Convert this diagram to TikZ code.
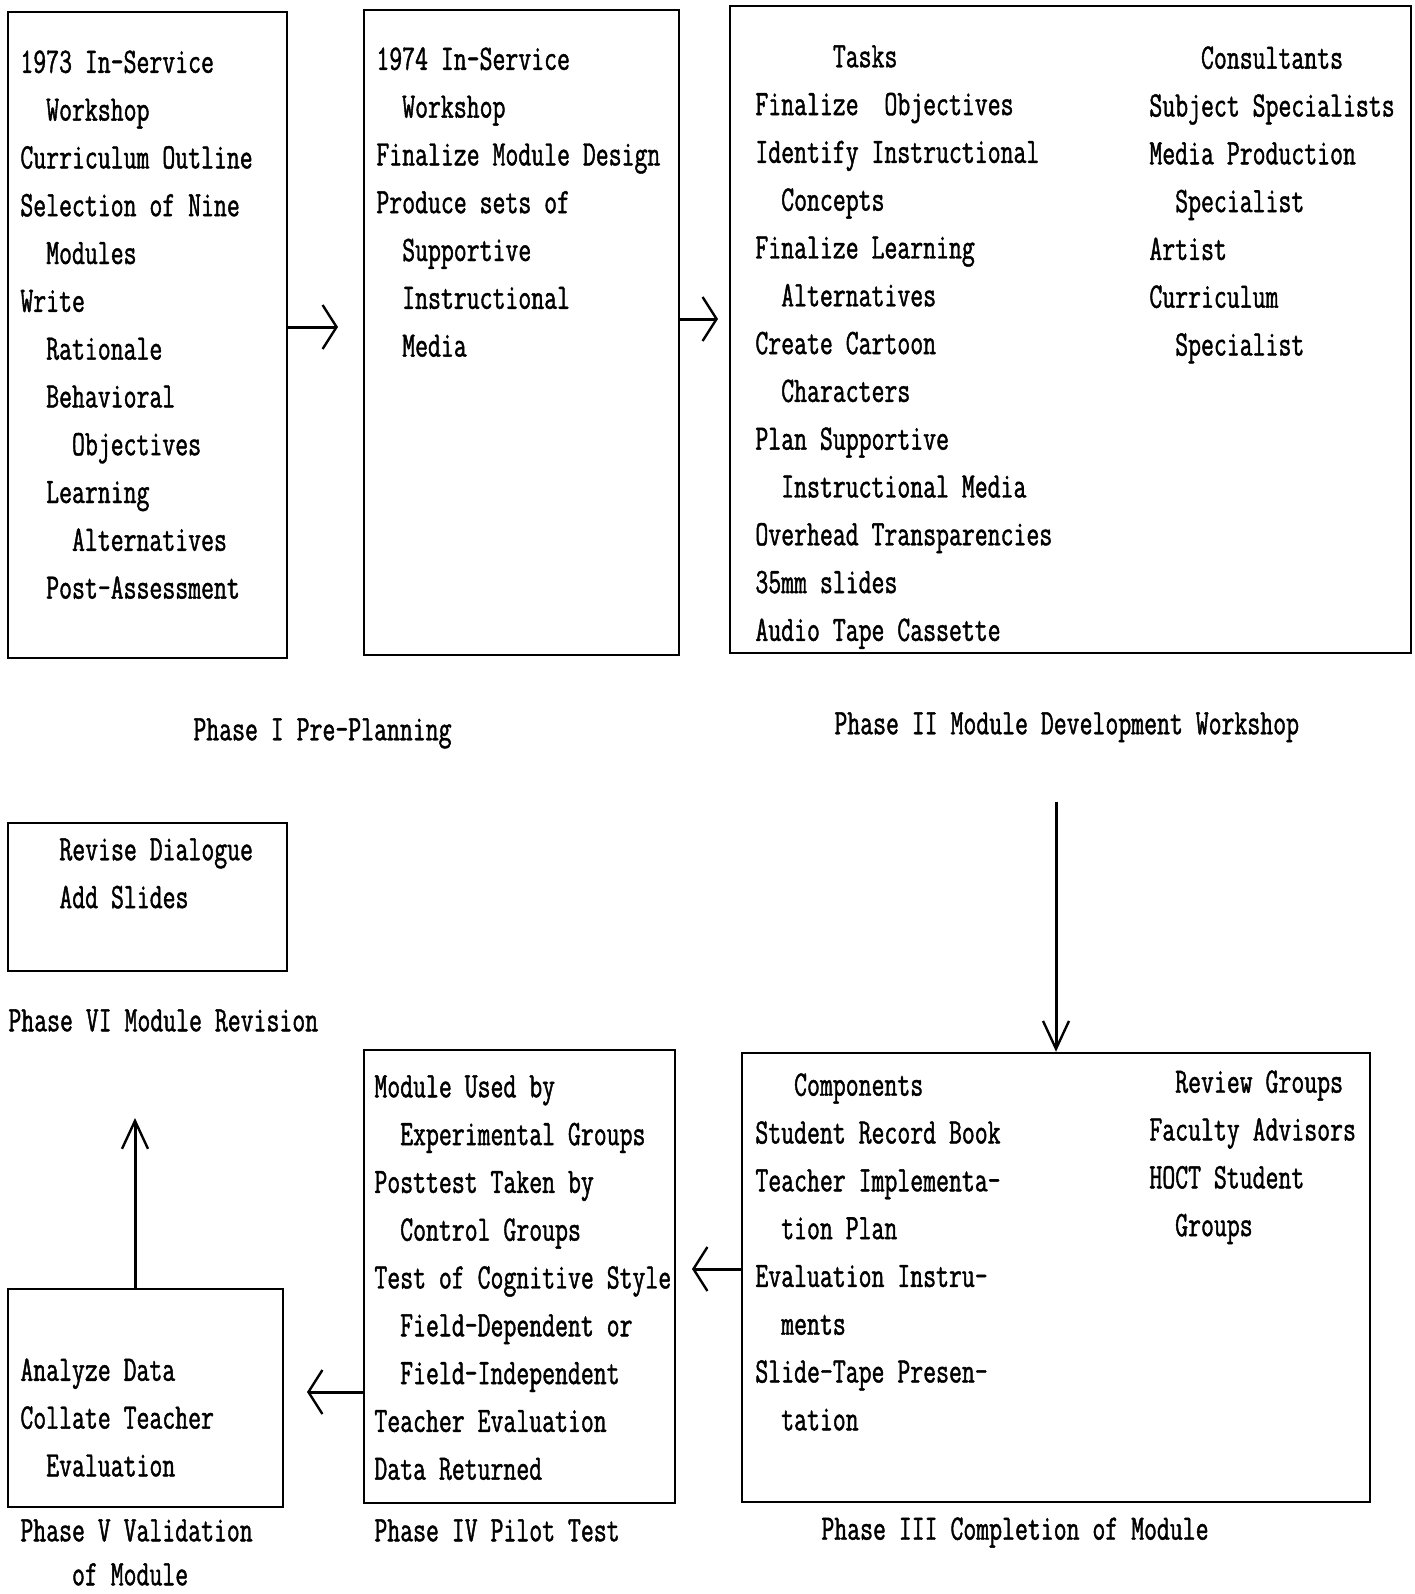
\documentclass[tikz,border=0pt]{standalone}
\usepackage{fontspec}
\usetikzlibrary{arrows.meta,fit}
\newfontfamily\tw{Latin Modern Mono}[FakeStretch=0.70,FakeBold=1.2]
\newcommand\II{\hphantom{00}}
\newcommand\I{\hphantom{0}}
\tikzset{
  boxst/.style={draw=black,line width=1.25pt,inner sep=0pt},
  txt/.style={anchor=north west,inner sep=0pt,align=left,
    font={\tw\fontsize{17.9}{23.9}\selectfont}},
  sidearr/.style={line width=1.5pt,-{Straight Barb[length=7pt,width=22pt,line width=1.2pt]}},
  vertarr/.style={line width=1.5pt,-{Straight Barb[length=14pt,width=13pt,line width=1.2pt]}}
}
\begin{document}
\begin{tikzpicture}[x=0.5pt,y=-0.5pt]
\useasboundingbox[fill=white] (0,0) rectangle (1414,1594);
% boxes
\node[boxst,fit={(8,12) (287,658)}] (b1) {};
\node[boxst,fit={(364,10) (679,655)}] (b2) {};
\node[boxst,fit={(730,6) (1411,653)}] (b3) {};
\node[boxst,fit={(8,823) (287,971)}] (b6) {};
\node[boxst,fit={(8,1289) (283,1507)}] (b5) {};
\node[boxst,fit={(364,1050) (675,1503)}] (b4) {};
\node[boxst,fit={(742,1053) (1370,1502)}] (b3c) {};
% texts
\node[txt] (t1) at (20,50) {1973 In-Service\\
\II Workshop\\
Curriculum Outline\\
Selection of Nine\\
\II Modules\\
Write\\
\II Rationale\\
\II Behavioral\\
\II\II Objectives\\
\II Learning\\
\II\II Alternatives\\
\II Post-Assessment};
\node[txt] (t2) at (376,47) {1974 In-Service\\
\II Workshop\\
Finalize Module Design\\
Produce sets of\\
\II Supportive\\
\II Instructional\\
\II Media};
\node[txt] (t3l) at (755,45) {\II\II\II Tasks\\
Finalize\I{} Objectives\\
Identify Instructional\\
\II Concepts\\
Finalize Learning\\
\II Alternatives\\
Create Cartoon\\
\II Characters\\
Plan Supportive\\
\II Instructional Media\\
Overhead Transparencies\\
35mm slides\\
Audio Tape Cassette};
\node[txt] (t3r) at (1149,46) {\II\II Consultants\\
Subject Specialists\\
Media Production\\
\II Specialist\\
Artist\\
Curriculum\\
\II Specialist};
\node[txt] (t6) at (59,838) {Revise Dialogue\\
Add Slides};
\node[txt] (t5) at (20,1358) {Analyze Data\\
Collate Teacher\\
\II Evaluation};
\node[txt] (t4) at (374,1075) {Module Used by\\
\II Experimental Groups\\
Posttest Taken by\\
\II Control Groups\\
Test of Cognitive Style\\
\II Field-Dependent or\\
\II Field-Independent\\
Teacher Evaluation\\
Data Returned};
\node[txt] (tcl) at (755,1073) {\hphantom{000}Components\\
Student Record Book\\
Teacher Implementa-\\
\II tion Plan\\
Evaluation Instru-\\
\II ments\\
Slide-Tape Presen-\\
\II tation};
\node[txt] (tcr) at (1149,1070) {\II Review Groups\\
Faculty Advisors\\
HOCT Student\\
\II Groups};
% labels
\node[txt] (l1) at (193,718) {Phase I Pre-Planning};
\node[txt] (l2) at (834,712) {Phase II Module Development Workshop};
\node[txt] (l6) at (8,1009) {Phase VI Module Revision};
\node[txt,font={\tw\fontsize{17.9}{22}\selectfont}] (l5) at (20,1519) {Phase V Validation\\
\II\II of Module};
\node[txt] (l4) at (374,1519) {Phase IV Pilot Test};
\node[txt] (l3) at (821,1517) {Phase III Completion of Module};
% arrows
\coordinate (a1) at (338,327);
\coordinate (a2) at (718,319);
\coordinate (a3) at (1056,802);
\coordinate (a4) at (692,1269);
\coordinate (a5) at (307,1392);
\coordinate (a6) at (135,1118);
\draw[sidearr] (b1.east |- a1) -- (a1);
\draw[sidearr] (b2.east |- a2) -- (a2);
\draw[vertarr] (a3) -- (b3c.north -| a3);
\draw[sidearr] (b3c.west |- a4) -- (a4);
\draw[sidearr] (b4.west |- a5) -- (a5);
\draw[vertarr] (b5.north -| a6) -- (a6);
\end{tikzpicture}
\end{document}
